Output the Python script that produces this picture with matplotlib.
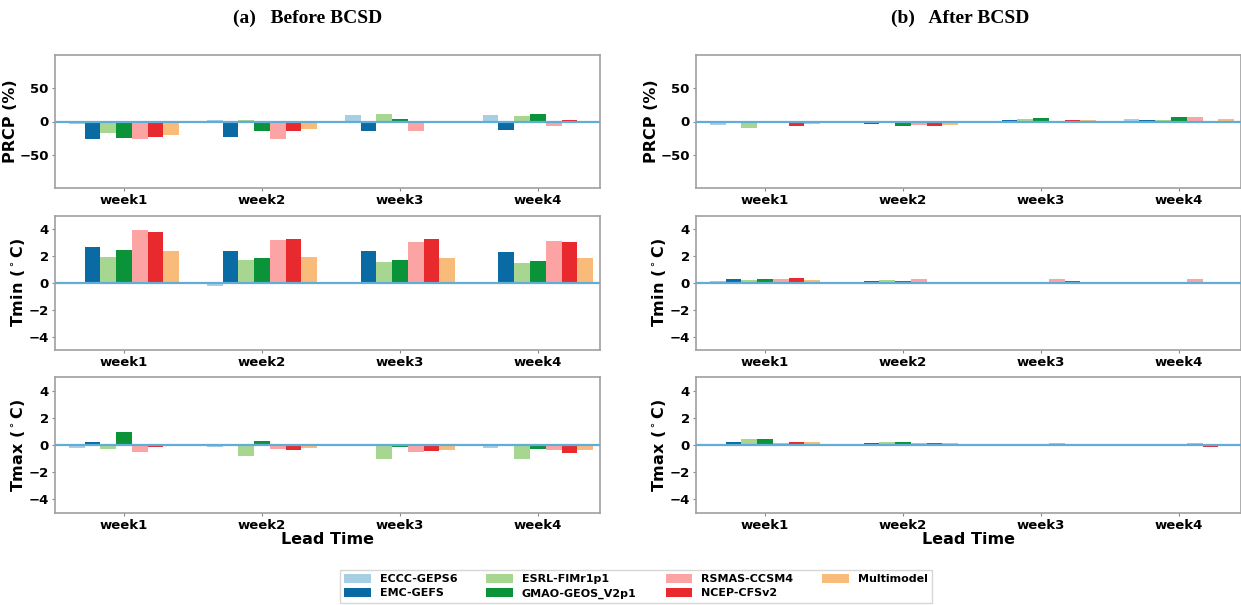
import matplotlib
matplotlib.use("Agg")
import matplotlib.pyplot as plt
import numpy as np

weeks = ["week1", "week2", "week3", "week4"]
models = ["ECCC-GEPS6", "EMC-GEFS", "ESRL-FIMr1p1", "GMAO-GEOS_V2p1",
          "RSMAS-CCSM4", "NCEP-CFSv2", "Multimodel"]
colors = ["#a6cfe3", "#0a6aa3", "#a6d68f", "#0b933a", "#fca4a4", "#e8292e", "#f9bb7a"]

# Before BCSD (rows: models, cols: weeks)
prcp_before = [
    [-4.5, 2, 10, 10],
    [-27, -23, -14, -13],
    [-17, 3, 12, 8],
    [-25, -15, 4, 12],
    [-27, -26, -15, -7],
    [-24, -14, 0, 2],
    [-21, -12, 0, 1.5],
]
tmin_before = [
    [0.02, -0.2, -0.1, -0.1],
    [2.7, 2.4, 2.37, 2.34],
    [1.96, 1.7, 1.53, 1.48],
    [2.45, 1.9, 1.74, 1.63],
    [3.97, 3.2, 3.04, 3.14],
    [3.8, 3.27, 3.27, 3.07],
    [2.37, 1.96, 1.9, 1.84],
]
tmax_before = [
    [-0.22, -0.17, -0.03, -0.2],
    [0.22, 0.05, 0.0, 0.0],
    [-0.27, -0.78, -1.0, -1.0],
    [0.98, 0.27, -0.15, -0.27],
    [-0.54, -0.32, -0.54, -0.39],
    [-0.15, -0.34, -0.44, -0.61],
    [0.0, -0.2, -0.34, -0.39],
]

# After BCSD
prcp_after = [
    [-6, -2.5, 1, 4.5],
    [-2.5, -4.5, 2, 2],
    [-9.5, -1, 4, 2],
    [-3, -7.5, 5, 6.5],
    [-0.5, -5.5, 0.5, 6.5],
    [-6.5, -7.5, 3, 1.5],
    [-4.5, -5, 2.5, 3.5],
]
tmin_after = [
    [0.15, 0.02, 0.02, 0.0],
    [0.27, 0.15, 0.03, 0.02],
    [0.2, 0.22, 0.07, 0.02],
    [0.3, 0.12, 0.1, 0.02],
    [0.27, 0.27, 0.27, 0.27],
    [0.35, 0.1, 0.17, -0.1],
    [0.25, 0.1, 0.05, -0.02],
]
tmax_after = [
    [0.05, 0.02, 0.0, -0.1],
    [0.22, 0.15, 0.0, -0.03],
    [0.45, 0.25, 0.0, 0.01],
    [0.45, 0.25, 0.01, 0.01],
    [0.15, 0.12, 0.15, 0.15],
    [0.22, 0.17, 0.08, -0.15],
    [0.22, 0.15, 0.0, -0.03],
]

ylabels = ["PRCP (%)", "Tmin ($^\\circ$C)", "Tmax ($^\\circ$C)"]
ylims = [(-100, 100), (-5, 5), (-5, 5)]
yticks = [[-50, 0, 50], [-4, -2, 0, 2, 4], [-4, -2, 0, 2, 4]]

W, H = 1241, 605
fig = plt.figure(figsize=(W / 100, H / 100), dpi=100)

lefts = [55 / W, 696 / W]
width = 545 / W
tops_bottoms = [(55, 188), (216, 350), (377, 513)]

data = [[prcp_before, tmin_before, tmax_before], [prcp_after, tmin_after, tmax_after]]

spine_c = "#a0a0a0"
x = np.arange(len(weeks))
n = len(models)
bw = 0.8 / n

handles = []
for c in range(2):
    for r in range(3):
        t, b = tops_bottoms[r]
        ax = fig.add_axes([lefts[c], 1 - b / H, width, (b - t) / H])
        vals = data[c][r]
        for i in range(n):
            bars = ax.bar(x - 0.4 + bw * (i + 0.5), vals[i], width=bw, color=colors[i],
                          label=models[i], zorder=2)
            if c == 0 and r == 0:
                handles.append(bars)
        ax.axhline(0, color="#62acd8", lw=1.6, zorder=3)
        ax.set_xlim(-0.5, 3.45)
        ax.set_ylim(*ylims[r])
        ax.set_yticks(yticks[r])
        ax.set_xticks(x)
        ax.set_xticklabels(weeks)
        ax.set_ylabel(ylabels[r], fontsize=11.5, fontweight="bold", labelpad=1)
        for lab in ax.get_xticklabels() + ax.get_yticklabels():
            lab.set_fontweight("bold")
            lab.set_fontsize(9.5)
        ax.tick_params(length=2.5, width=0.8, color="#888888", pad=2)
        for s in ax.spines.values():
            s.set_color(spine_c)
            s.set_linewidth(1.2)
        if r == 2:
            ax.set_xlabel("Lead Time", fontsize=11.5, fontweight="bold", labelpad=0)

fig.text(308 / W, 1 - 18 / H, "(a)   Before BCSD", ha="center", va="center",
         fontsize=14, fontweight="bold", family="Liberation Serif")
fig.text(960 / W, 1 - 18 / H, "(b)   After BCSD", ha="center", va="center",
         fontsize=14, fontweight="bold", family="Liberation Serif")

leg = fig.legend(handles=handles, labels=models, ncol=4, loc="lower center",
                 bbox_to_anchor=(636 / W, -0.006), prop={"weight": "bold", "size": 8},
                 frameon=True, fancybox=False, edgecolor="#cccccc",
                 handlelength=2.4, handleheight=0.8, columnspacing=2.6,
                 labelspacing=0.35, borderpad=0.4)

fig.savefig("out.png", dpi=100)
